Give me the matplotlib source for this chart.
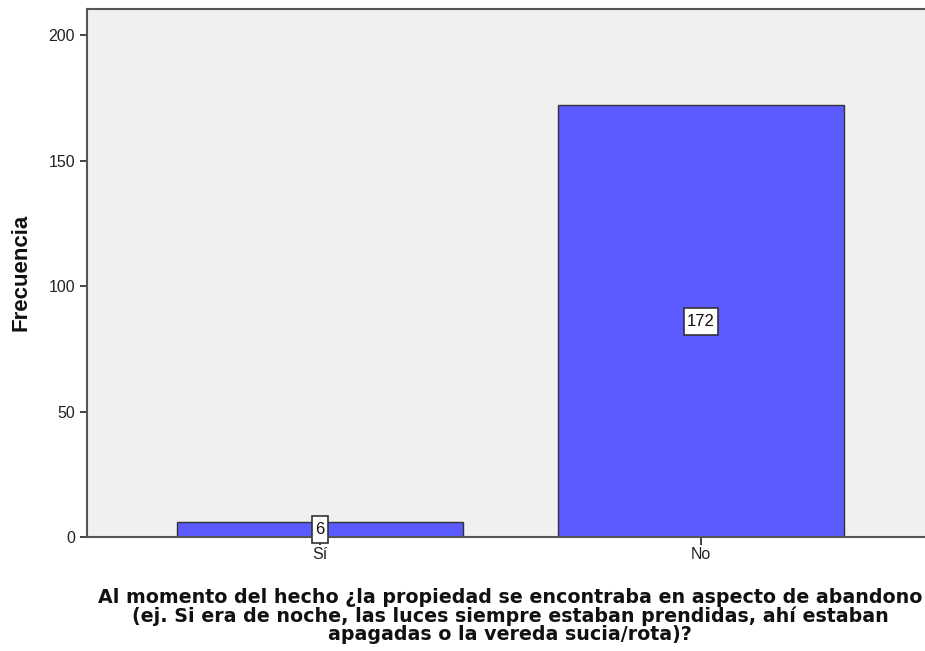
import matplotlib
matplotlib.use("Agg")
import matplotlib.pyplot as plt
from matplotlib.patches import Rectangle

categories = ["Sí", "No"]
values = [6, 172]
yticks = [0, 50, 100, 150, 200]
xlabel = ("Al momento del hecho ¿la propiedad se encontraba en aspecto de abandono\n"
          "(ej. Si era de noche, las luces siempre estaban prendidas, ahí estaban\n"
          "apagadas o la vereda sucia/rota)?")
ylabel = "Frecuencia"

plt.rcParams['font.family'] = ['Liberation Sans', 'DejaVu Sans']

W, H = 925, 651
fig = plt.figure(figsize=(W / 100, H / 100), dpi=100)
left, right, top, bottom = 87, 934, 9, 537
ax = fig.add_axes([left / W, 1 - bottom / H, (right - left) / W, (bottom - top) / H])
ax.set_facecolor("#F0F0F0")

x = list(range(len(categories)))
ax.bar(x, values, width=0.75, color="#5B5BFF", edgecolor="#333333", linewidth=1.0, zorder=2)

labels = []
for xi, v in zip(x, values):
    t = ax.text(xi, v / 2, str(v), ha="center", va="center", fontsize=12,
                color="#111111", zorder=6, clip_on=False)
    labels.append(t)

ax.set_xlim(-0.611, 1.611)
ax.set_ylim(0, 210.4)
ax.set_yticks(yticks)
ax.set_xticks(x)
ax.set_xticklabels(categories)
ax.tick_params(axis="both", direction="out", length=5, width=1.2, labelsize=11.5, colors="#222222")
ax.tick_params(axis="x", length=6, pad=1)
for s in ["left", "bottom", "top"]:
    ax.spines[s].set_linewidth(1.5)
    ax.spines[s].set_color("#555555")
ax.spines["right"].set_visible(False)

fig.text(21 / W, 1 - 272 / H, ylabel, rotation=90, ha="center", va="center",
         fontsize=16, fontweight="bold", color="#111111")
fig.text(510 / W, 1 - 616 / H, xlabel, ha="center", va="center", multialignment="center",
         fontsize=13.7, fontweight="bold", family=["DejaVu Sans"], linespacing=0.92,
         color="#111111")

# boxes around the value labels
fig.canvas.draw()
renderer = fig.canvas.get_renderer()
for t in labels:
    bb = t.get_window_extent(renderer)
    cx, cy = (bb.x0 + bb.x1) / 2, (bb.y0 + bb.y1) / 2
    w = bb.width + 6
    h = 27
    r = Rectangle((cx - w / 2, cy - h / 2), w, h, transform=None, facecolor="white",
                  edgecolor="#333333", linewidth=1.2, zorder=5, clip_on=False)
    fig.add_artist(r)
    t.remove()
    fig.text(cx / W, cy / H, t.get_text(), ha="center", va="center", fontsize=12,
             color="#111111", zorder=7)

fig.savefig("out.png", dpi=100)
